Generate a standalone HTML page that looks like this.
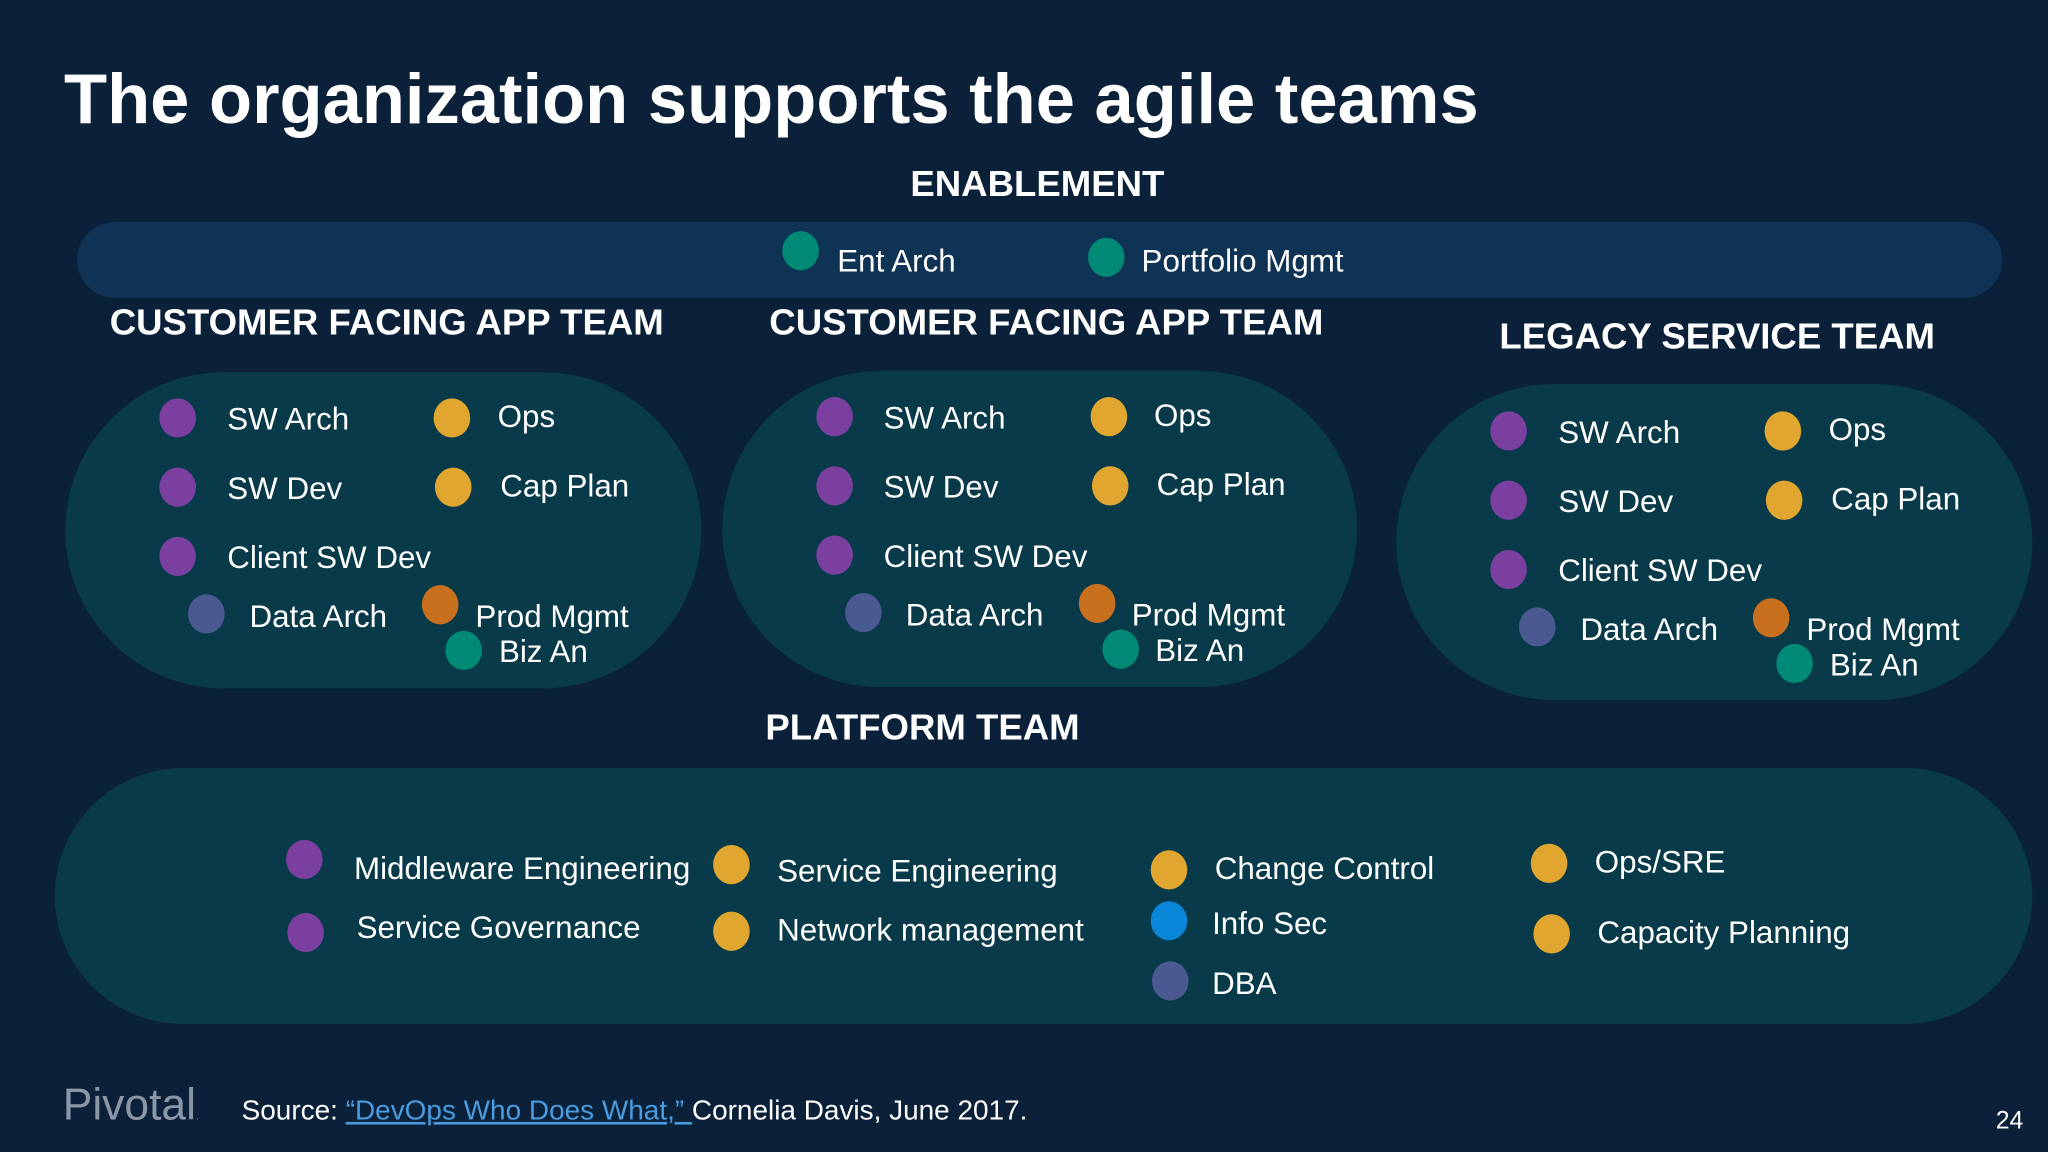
<!DOCTYPE html>
<html><head><meta charset="utf-8">
<style>
html,body{margin:0;padding:0;background:#0a2139;overflow:hidden}
#stage{position:absolute;left:0;top:0;width:1568px;height:882px;transform:scale(1.306122);transform-origin:0 0;background:#0a2139;font-family:"Liberation Sans",Arial,sans-serif;color:#fff}
.abs{position:absolute;white-space:nowrap}
.pill{position:absolute;background:#083a4a}
.h{font-weight:bold;font-size:28px;line-height:30px}
.t{font-size:24px;line-height:26px}
.dot{position:absolute;width:28px;height:30px;border-radius:50%}
</style></head>
<body>
<div id="stage">
<div class="abs" style="left:49px;top:46px;font-size:54px;font-weight:bold;line-height:60px">The organization supports the agile teams</div>
<div class="abs h" style="left:697px;top:126px">ENABLEMENT</div>
<div class="pill" style="left:59px;top:170px;width:1474px;height:58px;border-radius:29px;background:#0e3355"></div>
<div class="pill" style="left:50px;top:285px;width:487px;height:242px;border-radius:121px"></div>
<div class="pill" style="left:553px;top:284px;width:486px;height:242px;border-radius:121px"></div>
<div class="pill" style="left:1069px;top:294px;width:487px;height:242px;border-radius:121px"></div>
<div class="pill" style="left:42px;top:588px;width:1514px;height:196px;border-radius:98px"></div>
<div class="abs h" style="left:84px;top:232px">CUSTOMER FACING APP TEAM</div>
<div class="abs h" style="left:589px;top:232px">CUSTOMER FACING APP TEAM</div>
<div class="abs h" style="left:1148px;top:243px">LEGACY SERVICE TEAM</div>
<div class="abs h" style="left:586px;top:542px">PLATFORM TEAM</div>
<div class="abs" style="left:48px;top:826px;font-size:34px;color:#8a97a6;line-height:40px">Pivotal<span style="font-size:8px">.</span></div>
<div class="abs" style="left:185px;top:837px;font-size:21.4px;line-height:26px">Source: <a style="color:#4a9be0;text-decoration:underline">“DevOps Who Does What,” </a>Cornelia Davis, June 2017.</div>
<div class="abs" style="left:1528px;top:848px;font-size:19px;line-height:22px">24</div>
</div>
<script>
var C={p:'#7b3fa0',y:'#e0a630',o:'#c8701e',g:'#008a76',s:'#4a5a90',b:'#0a86d8'};
var stage=document.getElementById('stage');
function dot(x,y,c){var d=document.createElement('div');d.className='dot';


d.style.left=(x-14)+'px';d.style.top=(y-15)+'px';d.style.background=C[c];stage.appendChild(d);}
function txt(x,y,s){var d=document.createElement('div');d.className='abs t';


d.style.left=x+'px';d.style.top=(y-13)+'px';d.textContent=s;stage.appendChild(d);}
var teamItems=[[136,320,'p',174,322,'SW Arch'],[346,320,'y',381,320,'Ops'],[136,373,'p',174,375,'SW Dev'],[347,373,'y',383,373,'Cap Plan'],[136,426,'p',174,428,'Client SW Dev'],[158,470,'s',191,473,'Data Arch'],[337,463,'o',364,473,'Prod Mgmt'],[355,498,'g',382,500,'Biz An']];
var offsets=[[0,0],[502.5,-1],[1019,10]];
offsets.forEach(function(o){teamItems.forEach(function(i){dot(i[0]+o[0],i[1]+o[1],i[2]);txt(i[3]+o[0],i[4]+o[1],i[5]);});});
var other=[[613,192,'g',641,201,'Ent Arch'],[847,197,'g',874,201,'Portfolio Mgmt'],
[233,658,'p',271,666,'Middleware Engineering'],[234,714,'p',273,711,'Service Governance'],
[560,662,'y',595,668,'Service Engineering'],[560,713,'y',595,713,'Network management'],
[895,666,'y',930,666,'Change Control'],[895,705,'b',928,708,'Info Sec'],[896,751,'s',928,754,'DBA'],
[1186,661,'y',1221,661,'Ops/SRE'],[1188,715,'y',1223,715,'Capacity Planning']];
other.forEach(function(i){dot(i[0],i[1],i[2]);txt(i[3],i[4],i[5]);});
</script>
</body></html>
